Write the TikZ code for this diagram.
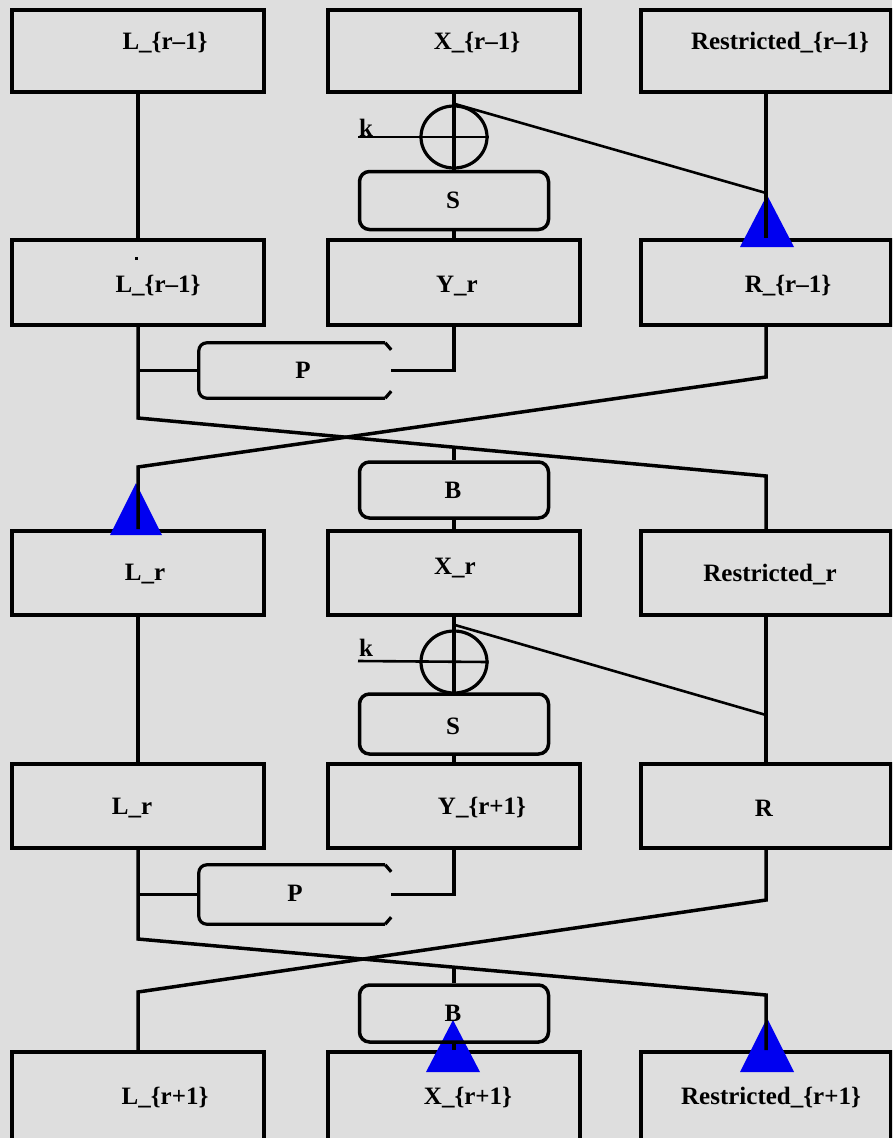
\documentclass[tikz,border=0pt]{standalone}
\usepackage{fontspec}
\setmainfont{Liberation Serif}
\usetikzlibrary{calc,shapes.geometric}
\definecolor{bggray}{HTML}{DEDEDE}
\definecolor{tri}{HTML}{0000F0}
\begin{document}
\begin{tikzpicture}[x=1pt,y=-1pt,
  box/.style={draw, line width=4pt, inner sep=0pt, minimum height=#1},
  box/.default=84pt,
  w1/.style={minimum width=252pt},
  w3/.style={minimum width=250pt},
  rbox/.style={draw, line width=3.5pt, rounded corners=10pt, inner sep=0pt, minimum width=189pt, minimum height=58pt},
  pshape/.style={inner sep=0pt, minimum width=192pt, minimum height=55pt},
  conn/.style={line width=3.5pt},
  thin/.style={line width=2.6pt},
  lbl/.style={font=\fontsize{25}{28}\selectfont\bfseries, inner sep=0pt},
  xorc/.style={draw, line width=3.2pt, ellipse, minimum width=66pt, minimum height=62pt, inner sep=0pt}
]
\useasboundingbox (0,0) rectangle (892,1138);
\fill[bggray] (0,0) rectangle (892,1138);
\clip (0,0) rectangle (892,1138);
% ---------- boxes ----------
\node[box=82pt, w1] (L1) at (138,51) {};
\node[box=82pt, w1] (X1) at (454,51) {};
\node[box=82pt, w3] (R1) at (766,51) {};
\node[box=85pt, w1] (L2) at (138,282.5) {};
\node[box=85pt, w1] (Y2) at (454,282.5) {};
\node[box=85pt, w3] (R2) at (766,282.5) {};
\node[box, w1] (L3) at (138,573) {};
\node[box, w1] (X3) at (454,573) {};
\node[box, w3] (R3) at (766,573) {};
\node[box, w1] (L4) at (138,806) {};
\node[box, w1] (Y4) at (454,806) {};
\node[box, w3] (R4) at (766,806) {};
\node[box=100pt, w1] (L5) at (138,1102) {};
\node[box=100pt, w1] (X5) at (454,1102) {};
\node[box=100pt, w3] (R5) at (766,1102) {};
% ---------- blue triangles (under lines) ----------
\fill[tri] (767,195) -- (794,247) -- (740,247) -- cycle;
\fill[tri] (136,483) -- (162,535) -- (110,535) -- cycle;
\fill[tri] (453,1020) -- (480,1072) -- (426,1072) -- cycle;
\fill[tri] (767,1018) -- (794,1072) -- (740,1072) -- cycle;
% ---------- round 1 ----------
\node[xorc] (C1) at (454,137) {};
\node[rbox] (S1) at (454,200.5) {};
\node[pshape] (P1) at (295,370.5) {};
\node[rbox, minimum height=56pt] (B1) at (454,490) {};
\coordinate (k1) at (358,137);
\coordinate (d1) at (455,104);
\coordinate (e1) at (766,193);
\draw[conn] (L1.south) -- (L2.north);
\draw[conn] (X1.south) -- (C1.north) -- (C1.south) -- (S1.north);
\draw[conn] (S1.south) -- (Y2.north);
\draw[thin] (k1) -- (C1.east);
\draw[conn] (R1.south) -- (R2.north);
\draw[thin] (d1) -- (e1);
\draw[line width=3.2pt, rounded corners=8pt]
  ($(P1.north east)+(-6,0)$) -- (P1.north west) -- (P1.south west) -- ($(P1.south east)+(-6,0)$);
\draw[line width=3.2pt] ($(P1.north east)+(0,7)$) -- ($(P1.north east)+(-6,0)$);
\draw[line width=3.2pt] ($(P1.south east)+(0,-7)$) -- ($(P1.south east)+(-6,0)$);
\draw[conn] (L2.south) -- (L2.south |- 0,418) coordinate (a1) -- (R3.north |- 0,476) coordinate (b1) -- (R3.north);
\draw[conn] (L2.south |- P1.west) -- (P1.west);
\draw[conn] (Y2.south) |- (P1.east);
\draw[conn] (R2.south) -- (R2.south |- 0,377) -- (L3.north |- 0,467) -- (L3.north);
\coordinate (m1) at (454,446);
\draw[conn] (m1) -- (B1.north);
\draw[conn] (B1.south) -- (X3.north);
\fill (134.5,256.5) rectangle (138,260);
% ---------- round 2 ----------
\node[xorc] (C2) at (454,662) {};
\node[rbox, minimum height=60pt] (S2) at (454,724) {};
\node[pshape, minimum height=59pt] (P2) at (295,894.5) {};
\node[rbox, minimum height=57pt] (B2) at (454,1013.5) {};
\coordinate (k2) at (358,661);
\coordinate (d2) at (455,625);
\coordinate (e2) at (766,715);
\draw[conn] (L3.south) -- (L4.north);
\draw[conn] (X3.south) -- (C2.north) -- (C2.south) -- (S2.north);
\draw[conn] (S2.south) -- (Y4.north);
\draw[thin] (k2) -- (C2.east);
\draw[conn] (R3.south) -- (R4.north);
\draw[thin] (d2) -- (e2);
\draw[line width=3.2pt, rounded corners=8pt]
  ($(P2.north east)+(-6,0)$) -- (P2.north west) -- (P2.south west) -- ($(P2.south east)+(-6,0)$);
\draw[line width=3.2pt] ($(P2.north east)+(0,7)$) -- ($(P2.north east)+(-6,0)$);
\draw[line width=3.2pt] ($(P2.south east)+(0,-7)$) -- ($(P2.south east)+(-6,0)$);
\draw[conn] (L4.south) -- (L4.south |- 0,939) -- (R5.north |- 0,995) -- (R5.north);
\draw[conn] (L4.south |- P2.west) -- (P2.west);
\draw[conn] (Y4.south) |- (P2.east);
\draw[conn] (R4.south) -- (R4.south |- 0,900) -- (L5.north |- 0,992) -- (L5.north);
\coordinate (m2) at (454,967);
\draw[conn] (m2) -- (B2.north);
\draw[conn] (B2.south) -- (X5.north);
% ---------- labels ----------
\node[lbl] at (165,43) {L\_\{r--1\}};
\node[lbl] at (477,43) {X\_\{r--1\}};
\node[lbl] at (780,43) {Restricted\_\{r--1\}};
\node[lbl] at (158,286) {L\_\{r--1\}};
\node[lbl] at (457,286) {Y\_r};
\node[lbl] at (788,286) {R\_\{r--1\}};
\node[lbl] at (145,574) {L\_r};
\node[lbl] at (455,568) {X\_r};
\node[lbl] at (770,575) {Restricted\_r};
\node[lbl] at (132,808) {L\_r};
\node[lbl] at (482,808) {Y\_\{r+1\}};
\node[lbl] at (764,808) {R};
\node[lbl] at (165,1098) {L\_\{r+1\}};
\node[lbl] at (468,1098) {X\_\{r+1\}};
\node[lbl] at (771,1098) {Restricted\_\{r+1\}};
\node[lbl] at (453,200) {S};
\node[lbl] at (453,726) {S};
\node[lbl] at (453,490) {B};
\node[lbl] at (453,1013) {B};
\node[lbl] at (303,370) {P};
\node[lbl] at (295,893) {P};
\node[lbl] at (366,128) {k};
\node[lbl] at (366,648) {k};
\end{tikzpicture}
\end{document}
